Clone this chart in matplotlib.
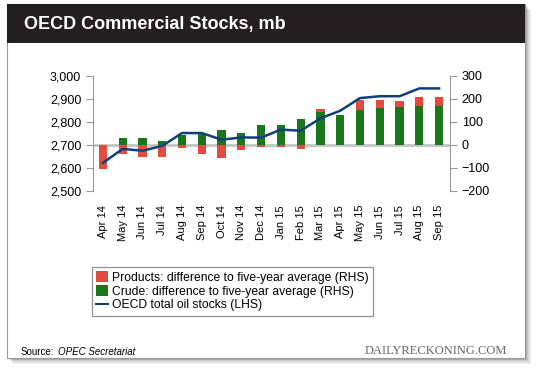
import matplotlib
matplotlib.use('Agg')
import matplotlib.pyplot as plt
from matplotlib.patches import Rectangle, Patch
from matplotlib.lines import Line2D

plt.rcParams['font.family'] = ['Liberation Sans', 'DejaVu Sans']

months = ['Apr 14', 'May 14', 'Jun 14', 'Jul 14', 'Aug 14', 'Sep 14', 'Oct 14',
          'Nov 14', 'Dec 14', 'Jan 15', 'Feb 15', 'Mar 15', 'Apr 15', 'May 15',
          'Jun 15', 'Jul 15', 'Aug 15', 'Sep 15']
crude = [0, 30, 30, 16, 43, 52, 67, 52, 87, 86, 112, 145, 132, 152, 162, 167, 168, 168]
products = [-104, -39, -52, -52, -13, -39, -58, -20, -9, -10, -19, 12, 0, 42, 32, 23, 42, 42]
total_stocks = [2622, 2683, 2675, 2696, 2752, 2752, 2723, 2733, 2732, 2767, 2762,
                2816, 2849, 2904, 2912, 2912, 2946, 2946]

RED = '#e34b3f'
GREEN = '#1a761a'
BLUE = '#0d3f78'

fig = plt.figure(figsize=(5.4, 3.7), dpi=100)
W, H = 540.0, 370.0

def box(x0, y0, x1, y1, **kw):
    # pixel coords, y from top
    return Rectangle((x0 / W, 1 - y1 / H), (x1 - x0) / W, (y1 - y0) / H,
                     transform=fig.transFigure, **kw)

# card with a soft shadow
for i, a in enumerate([0.06, 0.08, 0.10, 0.14]):
    off = 6 - i * 1.3
    fig.patches.append(box(7 + off, 4 + off, 525 + off, 358 + off,
                           facecolor='black', alpha=a, edgecolor='none', zorder=0))
fig.patches.append(box(7, 4, 525, 358, facecolor='white', edgecolor='#9a9a9a',
                       linewidth=0.8, zorder=1))
fig.patches.append(box(7, 4, 525, 43, facecolor='#231f20', edgecolor='none', zorder=2))
fig.text(24 / W, 1 - 24 / H, 'OECD Commercial Stocks, mb', color='white',
         fontsize=13, fontweight='bold', va='center', ha='left', zorder=3)

ax = fig.add_axes([93 / W, 1 - 191 / H, (450 - 93) / W, (191 - 76) / H])
ax2 = ax.twinx()
ax.set_zorder(3)
ax2.set_zorder(2)
ax.patch.set_visible(False)
ax2.patch.set_visible(False)

x = list(range(len(months)))
ax2.axhline(0, color='#c4c4c4', linewidth=2, zorder=1)
ax2.bar(x, crude, width=0.42, color=GREEN, edgecolor='none', zorder=2)
ax2.bar(x, [p if p > 0 else 0 for p in products], width=0.42, bottom=crude,
        color=RED, edgecolor='none', zorder=2)
ax2.bar(x, [p if p < 0 else 0 for p in products], width=0.42,
        color=RED, edgecolor='none', zorder=2)
ax.plot(x, total_stocks, color=BLUE, linewidth=1.8, zorder=4)

ax.set_ylim(2500, 3000)
ax2.set_ylim(-200, 300)
ax.set_xlim(-0.5, 17.55)
ax.set_yticks(range(2500, 3001, 100))
ax.set_yticklabels([f'{v:,}' for v in range(2500, 3001, 100)])
ax2.set_yticks(range(-200, 301, 100))
ax.set_xticks(x)
ax.set_xticklabels(months, rotation=90)

for a in (ax, ax2):
    for s in ('top', 'bottom'):
        a.spines[s].set_visible(False)
ax.spines['right'].set_visible(False)
ax2.spines['left'].set_visible(False)
ax.spines['left'].set_color('#999999')
ax2.spines['right'].set_color('#999999')
ax.tick_params(axis='y', colors='#999999', labelcolor='black', labelsize=9, length=5, width=0.8)
ax2.tick_params(axis='y', colors='#999999', labelcolor='black', labelsize=9, length=5, width=0.8)
ax.tick_params(axis='x', length=0, labelsize=8, pad=10)

handles = [Patch(facecolor=RED, edgecolor='none'),
           Patch(facecolor=GREEN, edgecolor='none'),
           Line2D([], [], color=BLUE, linewidth=1.5)]
labels = ['Products: difference to five-year average (RHS)',
          'Crude: difference to five-year average (RHS)',
          'OECD total oil stocks (LHS)']
leg = fig.legend(handles, labels, loc='upper left',
                 bbox_to_anchor=(92 / W, 1 - 267 / H), fontsize=8.7, frameon=True,
                 fancybox=False, handlelength=1.0, handleheight=1.0,
                 handletextpad=0.3, labelspacing=0.1, borderpad=0.35,
                 borderaxespad=0)
leg.get_frame().set_edgecolor('#777777')
leg.get_frame().set_linewidth(0.9)
leg.set_zorder(5)

fig.text(21 / W, 1 - 352 / H, 'Source:', fontsize=7, va='center', ha='left', zorder=5)
fig.text(58 / W, 1 - 352 / H, 'OPEC Secretariat', fontsize=7, style='italic',
         va='center', ha='left', zorder=5)
fig.text(507 / W, 1 - 351 / H, 'DAILYRECKONING.COM', fontsize=9,
         family=['Liberation Serif', 'DejaVu Serif'], color='#666666',
         va='center', ha='right', zorder=5)

fig.savefig('out.png', dpi=100)
